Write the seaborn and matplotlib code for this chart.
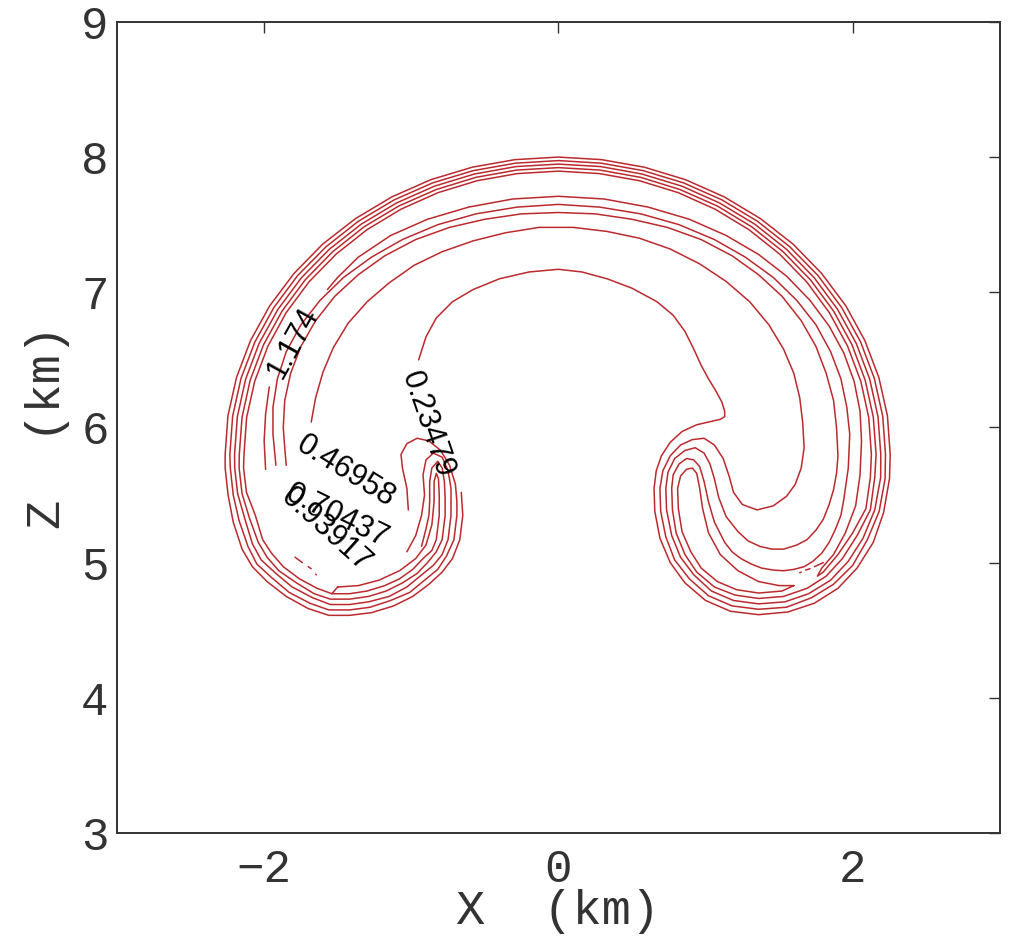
import numpy as np
import pandas as pd
import matplotlib
matplotlib.use("Agg")
import matplotlib.pyplot as plt
import seaborn as sns

# contour levels that carry a label
levels = [0.23479, 0.46958, 0.70437, 0.93917, 1.174]

# ------------------------------------------------------------------
# contour paths (x km, z km), one list per piece
# ------------------------------------------------------------------
lev1_main = [
    (-0.66, 5.52), (-0.65, 5.35), (-0.67, 5.17), (-0.72, 5.03), (-0.79, 4.93), (-0.88, 4.84),
    (-0.99, 4.75), (-1.12, 4.68), (-1.27, 4.63), (-1.42, 4.61), (-1.56, 4.61), (-1.70, 4.66),
    (-1.85, 4.75), (-1.98, 4.86), (-2.08, 4.97), (-2.15, 5.10), (-2.21, 5.30), (-2.245, 5.50),
    (-2.265, 5.70),
    (-2.265, 5.80), (-2.246, 6.087), (-2.188, 6.369), (-2.093, 6.642), (-1.962, 6.90),
    (-1.797, 7.139), (-1.602, 7.356), (-1.379, 7.545), (-1.133, 7.705), (-0.867, 7.833),
    (-0.586, 7.925), (-0.296, 7.981), (0.0, 8.0), (0.294, 7.981), (0.584, 7.925),
    (0.863, 7.833), (1.128, 7.705), (1.373, 7.545), (1.595, 7.356), (1.789, 7.139),
    (1.953, 6.90), (2.083, 6.642), (2.178, 6.369), (2.236, 6.087), (2.255, 5.80),
    (2.25, 5.62), (2.21, 5.37), (2.14, 5.15),
    (2.03, 4.96), (1.90, 4.81), (1.74, 4.70), (1.56, 4.635), (1.36, 4.615), (1.17, 4.64),
    (1.00, 4.72), (0.86, 4.85), (0.76, 5.00), (0.69, 5.18), (0.655, 5.38), (0.65, 5.55),
    (0.665, 5.68), (0.70, 5.79), (0.76, 5.89), (0.84, 5.97), (0.94, 6.02), (1.04, 6.045),
    (1.10, 6.06), (1.13, 6.08), (1.13, 6.12), (1.11, 6.19), (1.07, 6.27), (1.02, 6.36),
    (0.97, 6.46), (0.92, 6.58), (0.86, 6.71), (0.78, 6.83), (0.67, 6.93), (0.50, 7.03),
    (0.33, 7.10), (0.16, 7.15), (0.00, 7.17), (-0.20, 7.15), (-0.40, 7.10), (-0.58, 7.02),
    (-0.72, 6.93), (-0.83, 6.81), (-0.90, 6.67), (-0.95, 6.50),
]

lev2_main = [
    (-1.02, 5.39), (-1.03, 5.55), (-1.06, 5.70), (-1.07, 5.80), (-1.03, 5.88), (-0.96, 5.92),
    (-0.88, 5.90), (-0.80, 5.83), (-0.74, 5.72), (-0.70, 5.58), (-0.69, 5.45),
    (-0.69, 5.35), (-0.71, 5.17), (-0.76, 5.05), (-0.82, 4.95), (-0.91, 4.87), (-1.01, 4.78),
    (-1.14, 4.72), (-1.28, 4.67), (-1.42, 4.65), (-1.56, 4.65), (-1.69, 4.70), (-1.83, 4.78),
    (-1.95, 4.89), (-2.05, 4.99), (-2.11, 5.12), (-2.17, 5.31), (-2.21, 5.50), (-2.23, 5.70),
    (-2.233, 5.80), (-2.214, 6.084), (-2.157, 6.363), (-2.063, 6.632), (-1.934, 6.887),
    (-1.772, 7.124), (-1.579, 7.337), (-1.360, 7.525), (-1.117, 7.683), (-0.855, 7.809),
    (-0.578, 7.900), (-0.291, 7.955), (0.0, 7.974), (0.290, 7.955), (0.575, 7.900),
    (0.851, 7.809), (1.112, 7.683), (1.353, 7.525), (1.572, 7.337), (1.764, 7.124),
    (1.925, 6.887), (2.054, 6.632), (2.147, 6.363), (2.204, 6.084), (2.223, 5.80),
    (2.22, 5.62), (2.18, 5.38), (2.10, 5.17), (2.00, 4.98),
    (1.87, 4.84), (1.72, 4.74), (1.55, 4.67), (1.36, 4.655), (1.18, 4.68), (1.02, 4.755),
    (0.89, 4.88), (0.79, 5.02), (0.73, 5.19), (0.695, 5.38), (0.69, 5.55),
    (0.71, 5.68), (0.76, 5.79), (0.83, 5.87), (0.91, 5.91), (0.99, 5.92), (1.06, 5.87),
    (1.12, 5.77), (1.16, 5.64), (1.19, 5.52), (1.25, 5.43), (1.35, 5.39), (1.46, 5.42),
    (1.55, 5.49), (1.61, 5.58), (1.65, 5.70), (1.67, 5.85), (1.66, 6.04), (1.64, 6.22),
    (1.60, 6.40), (1.53, 6.58), (1.43, 6.76), (1.30, 6.93), (1.14, 7.08), (0.96, 7.21),
    (0.76, 7.32), (0.55, 7.40), (0.33, 7.45), (0.10, 7.48), (-0.13, 7.48), (-0.36, 7.44),
    (-0.58, 7.38), (-0.79, 7.30), (-0.98, 7.20), (-1.15, 7.07), (-1.30, 6.93), (-1.43, 6.77),
    (-1.53, 6.59), (-1.60, 6.41), (-1.65, 6.22), (-1.68, 6.04),
]

lev3_main = [
    (-1.03, 5.08), (-0.97, 5.20), (-0.93, 5.35), (-0.91, 5.50), (-0.92, 5.65), (-0.90, 5.76),
    (-0.85, 5.81), (-0.79, 5.78), (-0.75, 5.68), (-0.73, 5.55), (-0.73, 5.45),
    (-0.73, 5.35), (-0.75, 5.17), (-0.79, 5.06), (-0.85, 4.98), (-0.94, 4.90), (-1.03, 4.82),
    (-1.15, 4.75), (-1.29, 4.71), (-1.42, 4.69), (-1.55, 4.69), (-1.67, 4.74), (-1.81, 4.82),
    (-1.92, 4.92), (-2.02, 5.02), (-2.08, 5.14), (-2.13, 5.32), (-2.18, 5.51), (-2.20, 5.70),
    (-2.201, 5.80), (-2.182, 6.080), (-2.126, 6.356), (-2.034, 6.622), (-1.906, 6.874),
    (-1.746, 7.108), (-1.556, 7.319), (-1.340, 7.504), (-1.101, 7.660), (-0.842, 7.785),
    (-0.570, 7.875), (-0.287, 7.930), (0.0, 7.948), (0.286, 7.930), (0.567, 7.875),
    (0.839, 7.785), (1.096, 7.660), (1.334, 7.504), (1.549, 7.319), (1.738, 7.108),
    (1.897, 6.874), (2.024, 6.622), (2.116, 6.356), (2.172, 6.080), (2.191, 5.80),
    (2.19, 5.63), (2.15, 5.39), (2.07, 5.18), (1.97, 5.01),
    (1.85, 4.87), (1.70, 4.77), (1.54, 4.71), (1.36, 4.695), (1.19, 4.72), (1.04, 4.79),
    (0.92, 4.91), (0.83, 5.04), (0.77, 5.20), (0.735, 5.39), (0.73, 5.55),
    (0.745, 5.67), (0.79, 5.77), (0.86, 5.83), (0.93, 5.85), (0.99, 5.81), (1.03, 5.73),
    (1.06, 5.62), (1.09, 5.48), (1.14, 5.34), (1.22, 5.23), (1.29, 5.16), (1.37, 5.12),
    (1.45, 5.10), (1.53, 5.10), (1.62, 5.13), (1.69, 5.17), (1.75, 5.24), (1.80, 5.32),
    (1.84, 5.43), (1.87, 5.54), (1.89, 5.66), (1.90, 5.79), (1.89, 6.00), (1.87, 6.20),
    (1.82, 6.40), (1.75, 6.60), (1.65, 6.79), (1.52, 6.97), (1.36, 7.13), (1.18, 7.27),
    (0.97, 7.39), (0.74, 7.48), (0.50, 7.54), (0.25, 7.58), (0.00, 7.59), (-0.25, 7.58),
    (-0.50, 7.54), (-0.74, 7.48), (-0.97, 7.39), (-1.18, 7.27), (-1.36, 7.13), (-1.52, 6.97),
    (-1.65, 6.79), (-1.75, 6.60), (-1.82, 6.40), (-1.86, 6.20), (-1.87, 6.00), (-1.86, 5.85),
    (-1.85, 5.72),
]

lev4_main = [
    (-0.93, 5.12), (-0.90, 5.25), (-0.88, 5.35), (-0.875, 5.45), (-0.875, 5.60), (-0.86, 5.70),
    (-0.82, 5.75), (-0.79, 5.70), (-0.775, 5.60), (-0.77, 5.48),
    (-0.77, 5.35), (-0.79, 5.17), (-0.83, 5.08), (-0.89, 5.00), (-0.96, 4.92), (-1.06, 4.85),
    (-1.17, 4.79), (-1.29, 4.75), (-1.42, 4.73), (-1.55, 4.73), (-1.66, 4.77), (-1.78, 4.85),
    (-1.90, 4.94), (-1.98, 5.04), (-2.04, 5.15), (-2.10, 5.33), (-2.15, 5.51), (-2.17, 5.70),
    (-2.169, 5.80), (-2.150, 6.077), (-2.095, 6.349), (-2.004, 6.612), (-1.878, 6.861),
    (-1.721, 7.092), (-1.534, 7.300), (-1.321, 7.484), (-1.085, 7.638), (-0.830, 7.760),
    (-0.561, 7.850), (-0.283, 7.904), (0.0, 7.922), (0.282, 7.904), (0.559, 7.850),
    (0.826, 7.760), (1.080, 7.638), (1.314, 7.484), (1.527, 7.300), (1.713, 7.092),
    (1.870, 6.861), (1.995, 6.612), (2.085, 6.349), (2.140, 6.077), (2.159, 5.80),
    (2.15, 5.63), (2.12, 5.39), (2.03, 5.20), (1.93, 5.03),
    (1.82, 4.90), (1.69, 4.81), (1.53, 4.75), (1.36, 4.735), (1.20, 4.76), (1.06, 4.82),
    (0.94, 4.93), (0.86, 5.06), (0.80, 5.22), (0.775, 5.39), (0.77, 5.55),
    (0.78, 5.65), (0.82, 5.73), (0.87, 5.77), (0.92, 5.76), (0.96, 5.71), (0.99, 5.60),
    (1.02, 5.45), (1.06, 5.30), (1.13, 5.15), (1.18, 5.08), (1.24, 5.03), (1.31, 4.99),
    (1.38, 4.96), (1.46, 4.945), (1.53, 4.94), (1.60, 4.95), (1.67, 4.97), (1.73, 5.01),
    (1.79, 5.07), (1.84, 5.15), (1.88, 5.24), (1.92, 5.35), (1.94, 5.47), (1.97, 5.70),
    (1.98, 5.95), (1.96, 6.15), (1.92, 6.36), (1.85, 6.56), (1.75, 6.76), (1.62, 6.94),
    (1.46, 7.11), (1.27, 7.26), (1.06, 7.39), (0.82, 7.50), (0.56, 7.58), (0.28, 7.63),
    (0.00, 7.65), (-0.28, 7.63), (-0.56, 7.58), (-0.82, 7.50), (-1.06, 7.39), (-1.27, 7.26),
    (-1.46, 7.11), (-1.62, 6.94), (-1.75, 6.76), (-1.85, 6.56), (-1.91, 6.36), (-1.94, 6.15),
    (-1.94, 5.95), (-1.92, 5.72),
]

lev5_left_finger = [
    (-1.50, 4.82), (-1.36, 4.83), (-1.22, 4.87), (-1.08, 4.94), (-0.97, 5.03), (-0.90, 5.13),
    (-0.86, 5.28), (-0.845, 5.45), (-0.845, 5.60), (-0.83, 5.66), (-0.815, 5.62), (-0.81, 5.50),
    (-0.81, 5.35), (-0.83, 5.17), (-0.86, 5.09), (-0.92, 5.03), (-0.99, 4.95), (-1.08, 4.88),
    (-1.18, 4.83), (-1.30, 4.79), (-1.42, 4.77), (-1.54, 4.77), (-1.50, 4.82),
]

lev5_outer = [
    (-1.54, 4.77), (-1.64, 4.81), (-1.76, 4.88), (-1.87, 4.97), (-1.95, 5.07), (-2.01, 5.17),
    (-2.06, 5.35), (-2.12, 5.52), (-2.14, 5.70),
    (-2.137, 5.80), (-2.119, 6.074), (-2.064, 6.342), (-1.974, 6.602), (-1.851, 6.848),
    (-1.696, 7.076), (-1.511, 7.282), (-1.301, 7.463), (-1.069, 7.615), (-0.818, 7.737),
    (-0.553, 7.825), (-0.279, 7.878), (0.0, 7.896), (0.278, 7.878), (0.551, 7.825),
    (0.814, 7.737), (1.064, 7.615), (1.295, 7.463), (1.504, 7.282), (1.688, 7.076),
    (1.842, 6.848), (1.965, 6.602), (2.055, 6.342), (2.109, 6.074), (2.127, 5.80),
    (2.12, 5.63), (2.09, 5.40), (2.00, 5.22), (1.90, 5.06), (1.80, 4.93), (1.76, 4.90),
    (1.79, 4.96), (1.87, 5.06), (1.95, 5.22), (2.02, 5.42), (2.05, 5.65), (2.06, 5.90),
    (2.05, 6.12), (2.01, 6.34), (1.94, 6.55), (1.84, 6.75), (1.71, 6.94), (1.55, 7.12),
    (1.36, 7.28), (1.14, 7.42), (0.89, 7.54), (0.61, 7.63), (0.31, 7.69), (0.00, 7.71),
    (-0.31, 7.69), (-0.61, 7.63), (-0.89, 7.54), (-1.14, 7.42), (-1.36, 7.26), (-1.50, 7.11),
    (-1.57, 7.02),
]

lev5_right_finger = [
    (1.60, 4.83), (1.52, 4.79), (1.36, 4.775), (1.21, 4.80), (1.08, 4.86), (0.97, 4.96),
    (0.90, 5.08), (0.84, 5.23), (0.815, 5.40), (0.81, 5.55), (0.83, 5.64), (0.87, 5.69),
    (0.91, 5.70), (0.94, 5.66), (0.96, 5.55), (0.98, 5.40), (1.02, 5.22), (1.10, 5.06),
    (1.22, 4.94), (1.36, 4.86), (1.50, 4.83), (1.60, 4.83),
]

lev5_left_inner = [(-1.965, 6.30), (-1.99, 6.10), (-2.00, 5.90), (-1.99, 5.69)]

# tiny broken bits where the 1.174 band pinches off
dots_right = [[(1.64, 4.925), (1.65, 4.93)], [(1.68, 4.945), (1.71, 4.955)], [(1.74, 4.97), (1.80, 5.00)]]
dots_left = [[(-1.79, 5.04), (-1.74, 5.00)], [(-1.70, 4.97), (-1.68, 4.955)], [(-1.65, 4.915), (-1.645, 4.91)]]

# label text, centre (x, z) and angle
label_text = ["1.174", "0.23479", "0.46958", "0.70437", "0.93917"]
label_xz = [(-1.80, 6.63), (-0.89, 6.02), (-1.445, 5.675), (-1.505, 5.342), (-1.58, 5.24)]
label_rot = [61, -71, -32, -26, -42]

x_ticks = [-2, 0, 2]
z_ticks = [3, 4, 5, 6, 7, 8, 9]

pieces = ([lev1_main, lev2_main, lev3_main, lev4_main, lev5_left_finger, lev5_outer,
           lev5_right_finger, lev5_left_inner] + dots_right + dots_left)

rows = []
for i, seg in enumerate(pieces):
    for x, z in seg:
        rows.append({"x": x, "z": z, "seg": i})
df = pd.DataFrame(rows)

sns.set_style("white")
plt.rcParams["font.family"] = ["Liberation Mono", "DejaVu Sans"]

fig = plt.figure(figsize=(10.13, 9.52), dpi=100)
ax = fig.add_axes([0.1155, 0.125, 0.8715, 0.852])

sns.lineplot(data=df, x="x", y="z", units="seg", estimator=None, sort=False,
             color="#bb2a2e", linewidth=1.1, legend=False, ax=ax)

for txt, (lx, lz), rot in zip(label_text, label_xz, label_rot):
    ax.text(lx, lz, txt, rotation=rot, ha="center", va="center", fontsize=22,
            family=["Liberation Sans", "DejaVu Sans"], color="black",
            rotation_mode="anchor")

ax.set_xlim(-3, 3)
ax.set_ylim(3, 9)
ax.set_xticks(x_ticks)
ax.set_yticks(z_ticks)
ax.set_xticklabels(["\u22122", "0", "2"])
ax.tick_params(direction="in", length=8, width=1, top=True, right=True,
               labelsize=33, colors="#333333")
ax.tick_params(axis="y", pad=6)
ax.tick_params(axis="x", pad=11)
for s in ax.spines.values():
    s.set_linewidth(1.4)
    s.set_color("#333333")

ax.set_xlabel("X  (km)", fontsize=35, color="#333333", labelpad=-2)
ax.set_ylabel("Z  (km)", fontsize=35, color="#333333", labelpad=8)

fig.savefig("out.png", dpi=100)
